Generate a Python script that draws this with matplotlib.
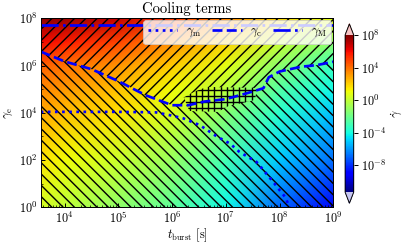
import matplotlib

matplotlib.use("Agg")
import matplotlib.pyplot as plt
import numpy as np
from matplotlib.collections import LineCollection
from matplotlib.colors import LogNorm
from matplotlib.path import Path
from matplotlib.ticker import LogLocator, NullFormatter

# field of cooling rate (log10 of gamma-dot)
T_GRID = [3.6e3, 1e4, 1e5, 1e6, 1e7, 1e8, 1e9]
G_GRID = [1e0, 1e2, 1e4, 1e5, 1e6, 1e7, 1e8]
LOG_GDOT = [
    [0.4, -0.1, -1.2, -2.4, -4.2, -7.0, -9.2],
    [1.6, 1.1, 0.2, -1.0, -3.0, -5.1, -6.8],
    [2.8, 2.4, 1.6, 0.5, -1.4, -3.6, -5.2],
    [3.5, 3.1, 2.3, 1.1, -0.2, -2.6, -4.2],
    [4.3, 3.9, 3.2, 2.1, 0.8, -1.3, -3.2],
    [6.1, 5.7, 4.9, 3.4, 2.0, 0.2, -1.2],
    [7.8, 7.5, 6.8, 5.2, 3.6, 1.9, 0.8],
]

# characteristic Lorentz factors
T_GM = [3.6e3, 1e5, 5e5, 9e5, 1.6e6, 3.3e6, 6.8e6, 1.2e7, 1.8e7, 3.7e7, 5e7, 7.6e7, 1e8, 1.26e8, 1.55e8]
GAMMA_M = [1.1e4, 1.1e4, 1.05e4, 8e3, 5.9e3, 3e3, 1e3, 5e2, 2.2e2, 85, 38, 12, 5.4, 2.8, 1.0]
T_GC = [3.6e3, 1e4, 3.2e4, 1e5, 3.2e5, 1e6, 2e6, 4e6, 1e7, 2.5e7, 5e7, 6.3e7, 1e8, 2.5e8, 5e8, 1e9]
GAMMA_C = [3.9e6, 1.5e6, 7e5, 2.2e5, 5.6e4, 2.1e4, 2.1e4, 3e4, 3.8e4, 6.8e4, 1.1e5, 3.2e5, 5.6e5, 8.9e5, 1.05e6, 1.45e6]
T_GMAX = [3.6e3, 1e9]
GAMMA_MAX = [5.2e7, 5.2e7]

# outline of the third cooling regime (cross hatched)
BLOB_T = [1.65e6, 2.1e6, 7.1e6, 1.1e7, 3.5e7, 3.8e7, 4.4e6, 2.6e6]
BLOB_G = [4.5e4, 1.2e4, 1.1e4, 1.9e4, 3.5e4, 1.15e5, 1.25e5, 7.8e4]

Y_TICKS = [1e0, 1e2, 1e4, 1e6, 1e8]
CBAR_TICKS = [1e-8, 1e-4, 1e0, 1e4, 1e8]

DPI = 66
K = 88 / 66  # point sizes scaled so text matches a 10 pt / 88 dpi look
plt.rcParams.update({
    "font.family": "serif",
    "font.serif": ["cmr10"],
    "mathtext.fontset": "cm",
    "axes.formatter.use_mathtext": True,
    "axes.unicode_minus": False,
    "font.size": 10 * K,
    "axes.linewidth": 0.8 * K,
    "xtick.direction": "in",
    "ytick.direction": "in",
    "xtick.major.size": 3.5 * K,
    "ytick.major.size": 3.5 * K,
    "xtick.minor.size": 2.0 * K,
    "ytick.minor.size": 2.0 * K,
    "xtick.major.width": 0.8 * K,
    "ytick.major.width": 0.8 * K,
    "xtick.minor.width": 0.6 * K,
    "ytick.minor.width": 0.6 * K,
    "legend.edgecolor": "0.8",
})

AX_RECT = [0.100, 0.150, 0.719, 0.775]
fig = plt.figure(figsize=(407 / DPI, 244 / DPI), dpi=DPI)
ax = fig.add_axes(AX_RECT)
cax = fig.add_axes([0.848, 0.167, 0.021, 0.735])

cmap = plt.get_cmap("jet").copy()
cmap.set_over("#f7c4c4")
cmap.set_under("#c6c6f2")
norm = LogNorm(vmin=5e-12, vmax=1e8)

tt, gg = np.meshgrid(T_GRID, G_GRID)
gdot = 10.0 ** np.asarray(LOG_GDOT)
mesh = ax.pcolormesh(tt, gg, gdot, shading="gouraud", cmap=cmap, norm=norm, zorder=1)

# regime outlines in data space
below = Path(list(zip(T_GC, GAMMA_C)) + [(2e9, GAMMA_C[-1]), (2e9, 0.5), (1e3, 0.5), (1e3, GAMMA_C[0])])
above = Path(list(zip(T_GC, GAMMA_C)) + [(2e9, GAMMA_C[-1]), (2e9, 3e8), (1e3, 3e8), (1e3, GAMMA_C[0])])
blob = Path(list(zip(BLOB_T, BLOB_G)))

# hatch texture drawn in axes pixels (spacing ~11 px diagonal, ~6 px cross)
W = 407 * AX_RECT[2]
H = 244 * AX_RECT[3]
S, C = 11.3, 6.2
back = [[((c - H) / W, 1.0), (c / W, 0.0)] for c in np.arange(0, W + H + S, S)]
fwd = [[(x0 / W, 0.0), ((x0 + H) / W, 1.0)] for x0 in np.arange(-H, W + S, S)]
grid = [[(x / W, 0.0), (x / W, 1.0)] for x in np.arange(0, W, C)]
grid += [[(0.0, y / H), (1.0, y / H)] for y in np.arange(0, H, C)]
HATCH_LW = 1.4 * 72 / DPI

for segs, region in ((back, below), (fwd, above)):
    lc = LineCollection(segs, colors="black", linewidths=HATCH_LW, transform=ax.transAxes, zorder=1.2)
    ax.add_collection(lc)
    lc.set_clip_path(region, ax.transData)

blob_mesh = ax.pcolormesh(tt, gg, gdot, shading="gouraud", cmap=cmap, norm=norm, zorder=1.4)
blob_mesh.set_clip_path(blob, ax.transData)
lc = LineCollection(grid, colors="black", linewidths=HATCH_LW, transform=ax.transAxes, zorder=1.6)
ax.add_collection(lc)
lc.set_clip_path(blob, ax.transData)

ax.plot(T_GM, GAMMA_M, color="blue", linestyle=":", linewidth=2.2 * K, label=r"$\gamma_{\rm m}$")
ax.plot(T_GC, GAMMA_C, color="blue", linestyle="--", linewidth=2.2 * K, label=r"$\gamma_{\rm c}$")
ax.plot(T_GMAX, GAMMA_MAX, color="blue", linestyle="-.", linewidth=2.2 * K, label=r"$\gamma_{\rm M}$")

ax.set_xscale("log")
ax.set_yscale("log")
ax.set_xlim(3.6e3, 1e9)
ax.set_ylim(1e0, 1e8)
ax.set_yticks(Y_TICKS)
ax.yaxis.set_minor_locator(LogLocator(base=10, subs=(1.0,), numticks=20))
ax.yaxis.set_minor_formatter(NullFormatter())
ax.set_title("Cooling terms", pad=6)
ax.set_xlabel(r"$t_{\rm burst}$ [s]", labelpad=0)
ax.set_ylabel(r"$\gamma_{\rm e}$")
ax.legend(loc="upper right", ncol=3, handlelength=2.4, handletextpad=0.7,
          columnspacing=0.9, borderaxespad=0.15, framealpha=0.8)

cb = fig.colorbar(mesh, cax=cax, extend="both", extendfrac=0.07, ticks=CBAR_TICKS)
cb.ax.minorticks_off()
cb.ax.tick_params(direction="out")
cb.outline.set_linewidth(0.8 * K)
cb.set_label(r"$\dot{\gamma}$", labelpad=3)

fig.savefig("out.png", dpi=DPI)
